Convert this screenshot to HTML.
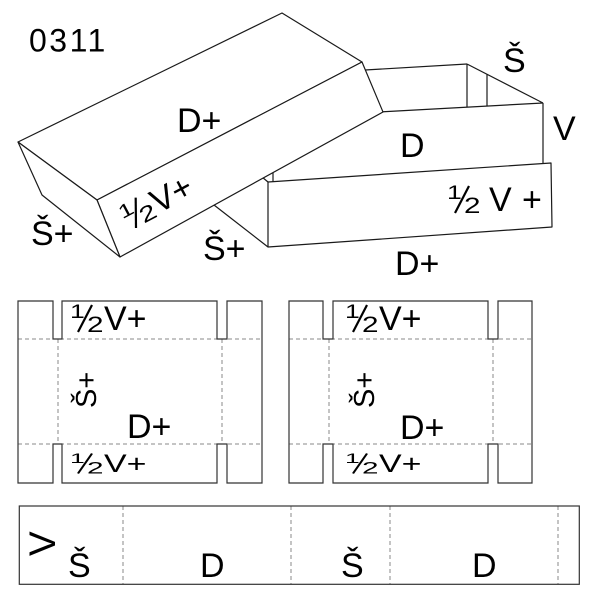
<!DOCTYPE html>
<html><head><meta charset="utf-8"><style>
html,body{margin:0;padding:0;background:#fff;}
svg{display:block;}
text{font-family:"Liberation Sans",Arial,sans-serif;fill:#000;}
</style></head><body>
<svg width="600" height="600" viewBox="0 0 600 600" xmlns="http://www.w3.org/2000/svg">
<rect width="600" height="600" fill="#fff"/>
<g fill="none" stroke="#1a1a1a" stroke-width="1.2" stroke-linejoin="round">
  <line x1="365" y1="70" x2="467" y2="64"/>
  <line x1="467" y1="64" x2="543" y2="103"/>
  <line x1="467" y1="64" x2="467" y2="107"/>
  <line x1="487" y1="74" x2="487" y2="106"/>
  <line x1="360" y1="113" x2="543" y2="103"/>
  <line x1="543" y1="103" x2="543" y2="163"/>
  <polygon points="268,182 551,163 552,227 268,247" fill="#fff"/>
  <line x1="214" y1="205" x2="268" y2="247"/>
  <line x1="262" y1="177" x2="268" y2="182"/>
  <line x1="273" y1="173" x2="273" y2="182"/>
  <polygon points="18,142 282,13 362,62 97,200" fill="#fff"/>
  <polygon points="97,200 362,62 383,112 120,257" fill="#fff"/>
  <polygon points="18,142 97,200 120,257 42,195" fill="#fff"/>
</g>

<text x="29" y="51.5" font-size="32" letter-spacing="2.5">0311</text>
<text x="177" y="132" font-size="34">D+</text>
<text x="31" y="245" font-size="34">Š+</text>
<text x="203" y="260" font-size="34">Š+</text>

<g transform="translate(128 230) rotate(-28)">
  <text transform="translate(0 -12) scale(1.4 1)" font-size="19">1</text>
  <line x1="22" y1="-25" x2="8" y2="2" stroke="#000" stroke-width="2.2"/>
  <text transform="translate(17 2) scale(1.35 1)" font-size="22">2</text>
  <text x="34" y="0" font-size="34">V+</text>
</g>

<text x="503" y="72" font-size="34">Š</text>
<text x="553" y="140" font-size="34">V</text>
<text x="400" y="157" font-size="34">D</text>
<g transform="translate(447 211)">
  <text transform="translate(0 -12) scale(1.4 1)" font-size="19">1</text>
  <line x1="22" y1="-25" x2="8" y2="2" stroke="#000" stroke-width="2.2"/>
  <text transform="translate(17 2) scale(1.35 1)" font-size="22">2</text>
</g>
<text x="489" y="211" font-size="34">V</text>
<text x="522" y="211" font-size="34">+</text>
<text x="395" y="275" font-size="34">D+</text>

<g fill="none" stroke="#888" stroke-width="1" stroke-dasharray="4 3">
  <line x1="18" y1="339" x2="262" y2="339"/>
  <line x1="18" y1="444" x2="262" y2="444"/>
  <line x1="58" y1="339" x2="58" y2="444"/>
  <line x1="222" y1="339" x2="222" y2="444"/>
  <line x1="289" y1="339" x2="532" y2="339"/>
  <line x1="289" y1="444" x2="532" y2="444"/>
  <line x1="329" y1="339" x2="329" y2="444"/>
  <line x1="493" y1="339" x2="493" y2="444"/>
  <line x1="123" y1="506" x2="123" y2="584"/>
  <line x1="291" y1="506" x2="291" y2="584"/>
  <line x1="390" y1="506" x2="390" y2="584"/>
  <line x1="558" y1="506" x2="558" y2="584"/>
</g>
<g fill="none" stroke="#333" stroke-width="1.2" stroke-linejoin="miter">
  <path d="M18,301 H53 V339 H62 V301 H217 V339 H227 V301 H262 V483 H227 V444 H217 V483 H62 V444 H53 V483 H18 Z"/>
  <path d="M289,301 H323 V339 H333 V301 H488 V339 H498 V301 H532 V483 H498 V444 H488 V483 H333 V444 H323 V483 H289 Z"/>
  <rect x="19.3" y="506" width="560" height="78.3"/>
</g>

<g transform="translate(70 330)">
  <text transform="translate(0 -12) scale(1.4 1)" font-size="19">1</text>
  <line x1="22" y1="-25" x2="8" y2="2" stroke="#000" stroke-width="2.2"/>
  <text transform="translate(17 2) scale(1.35 1)" font-size="22">2</text>
  <text x="34" y="0" font-size="34">V+</text>
</g>
<text x="127" y="438" font-size="34">D+</text>
<text x="96" y="408" font-size="29" transform="rotate(-90 96 408)">Š+</text>
<g transform="translate(70 472) scale(1 0.74)">
  <text transform="translate(0 -12) scale(1.4 1)" font-size="19">1</text>
  <line x1="22" y1="-25" x2="8" y2="2" stroke="#000" stroke-width="2.2"/>
  <text transform="translate(17 2) scale(1.35 1)" font-size="22">2</text>
  <text x="34" y="0" font-size="34">V+</text>
</g>

<g transform="translate(345 330)">
  <text transform="translate(0 -12) scale(1.4 1)" font-size="19">1</text>
  <line x1="22" y1="-25" x2="8" y2="2" stroke="#000" stroke-width="2.2"/>
  <text transform="translate(17 2) scale(1.35 1)" font-size="22">2</text>
  <text x="34" y="0" font-size="34">V+</text>
</g>
<text x="400" y="439" font-size="34">D+</text>
<text x="374" y="408" font-size="29" transform="rotate(-90 374 408)">Š+</text>
<g transform="translate(345 472) scale(1 0.74)">
  <text transform="translate(0 -12) scale(1.4 1)" font-size="19">1</text>
  <line x1="22" y1="-25" x2="8" y2="2" stroke="#000" stroke-width="2.2"/>
  <text transform="translate(17 2) scale(1.35 1)" font-size="22">2</text>
  <text x="34" y="0" font-size="34">V+</text>
</g>

<text x="55" y="556" font-size="37" transform="rotate(-90 55 556)">V</text>
<text x="68" y="577" font-size="34">Š</text>
<text x="200" y="577" font-size="34">D</text>
<text x="341" y="577" font-size="34">Š</text>
<text x="472" y="577" font-size="34">D</text>
</svg>
</body></html>
